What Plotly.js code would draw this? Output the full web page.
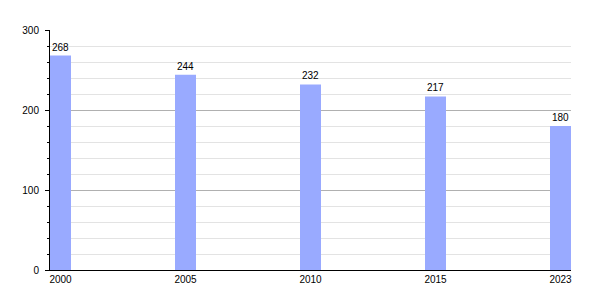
<!DOCTYPE html>
<html>
<head>
<meta charset="utf-8">
<script src="https://cdn.plot.ly/plotly-3.0.1.min.js"></script>
<style>html,body{margin:0;padding:0;background:#fff;}#chart{width:600px;height:300px;}</style>
</head>
<body>
<div id="chart"></div>
<script>
const years = ['2000', '2005', '2010', '2015', '2023'];
const values = [268, 244, 232, 217, 180];
const yTicks = [0, 100, 200, 300];

const barWidth = 0.168;
const trace = {
  type: 'bar',
  x: years,
  y: values,
  width: barWidth,
  marker: {color: '#99aaff', line: {width: 0}},
  text: values.map(String),
  textposition: 'outside',
  textfont: {family: 'Liberation Sans, Arial, sans-serif', size: 10, color: '#000'},
  cliponaxis: false,
  hoverinfo: 'none'
};

const layout = {
  width: 600,
  height: 300,
  margin: {l: 50, r: 29, t: 30, b: 30},
  paper_bgcolor: '#fff',
  plot_bgcolor: '#fff',
  showlegend: false,
  font: {family: 'Liberation Sans, Arial, sans-serif', size: 10, color: '#000'},
  xaxis: {
    type: 'category',
    range: [-barWidth / 2, years.length - 1 + barWidth / 2],
    showgrid: false,
    showline: true,
    linecolor: '#000',
    linewidth: 1,
    ticks: '',
    tickfont: {size: 10, color: '#000'},
    fixedrange: true
  },
  yaxis: {
    range: [0, 300],
    tickvals: yTicks,
    ticktext: yTicks.map(String),
    showgrid: true,
    gridcolor: '#b0b0b0',
    gridwidth: 1,
    zeroline: false,
    showline: true,
    linecolor: '#000',
    linewidth: 1,
    ticks: 'outside',
    ticklen: 4,
    tickcolor: '#000',
    tickfont: {size: 10, color: '#000'},
    ticklabelstandoff: 4,
    minor: {dtick: 20, showgrid: true, gridcolor: '#e3e3e3', gridwidth: 1, ticks: 'outside', ticklen: 2, tickcolor: '#000'},
    fixedrange: true
  }
};

Plotly.newPlot('chart', [trace], layout, {displayModeBar: false, staticPlot: true});
</script>
</body>
</html>
